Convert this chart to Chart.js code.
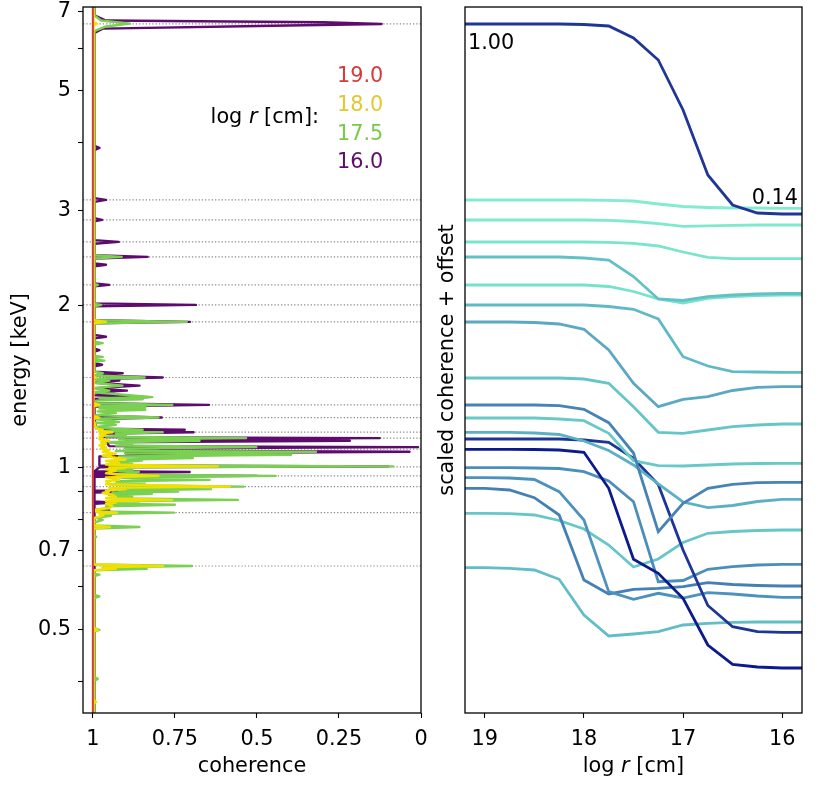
<!DOCTYPE html>
<html>
<head>
<meta charset="utf-8">
<script src="https://cdn.jsdelivr.net/npm/chart.js@4.4.1/dist/chart.umd.min.js"></script>
<style>
  html, body { margin: 0; padding: 0; background: #fff; }
  #wrap { position: relative; width: 830px; height: 785px; }
  canvas { position: absolute; top: 0; }
  #left { left: 0; }
  #right { left: 430px; }
</style>
</head>
<body>
<div id="wrap">
  <canvas id="left" width="430" height="785"></canvas>
  <canvas id="right" width="400" height="785"></canvas>
</div>
<script>
// --- Left panel data: [energy keV, coherence] ---
const radiusLabels = ['19.0', '18.0', '17.5', '16.0'];

const red19 = [[7.2, 1.0], [0.34, 1.0]];

const yellow18 = [
  [7.2, 0.998], [6.7, 0.998], [6.66, 0.988], [6.62, 0.998],
  [1.875, 0.998], [1.862, 0.96], [1.85, 0.998],
  [1.475, 0.998], [1.468, 0.99], [1.46, 0.998],
  [1.315, 0.998], [1.306, 0.98], [1.297, 0.998],
  [1.245, 0.998], [1.237, 0.98], [1.229, 0.998],
  [1.18, 0.99], [1.174, 0.97], [1.168, 0.98], [1.162, 0.94], [1.155, 0.98], [1.146, 0.96], [1.14, 0.98],
  [1.133, 0.97], [1.127, 0.98], [1.12, 0.95], [1.113, 0.975], [1.106, 0.96], [1.098, 0.98], [1.09, 0.96],
  [1.084, 0.975], [1.075, 0.95], [1.069, 0.97], [1.06, 0.93], [1.052, 0.97], [1.044, 0.94], [1.035, 0.9],
  [1.028, 0.96], [1.02, 0.92], [1.012, 0.96],
  [1.004, 0.619], [1.0, 0.95], [0.997, 0.9], [0.992, 0.96], [0.986, 0.93], [0.98, 0.95], [0.975, 0.96], [0.97, 0.92],
  [0.964, 0.8], [0.958, 0.96], [0.953, 0.94], [0.948, 0.92], [0.942, 0.96], [0.937, 0.95], [0.93, 0.96],
  [0.921, 0.583], [0.916, 0.95], [0.911, 0.9], [0.906, 0.96], [0.902, 0.95], [0.896, 0.97], [0.889, 0.94],
  [0.882, 0.93], [0.876, 0.96], [0.87, 0.758], [0.865, 0.96], [0.86, 0.93], [0.855, 0.96], [0.848, 0.94],
  [0.84, 0.95], [0.835, 0.99], [0.828, 0.99], [0.824, 0.926], [0.819, 0.98], [0.813, 0.97], [0.806, 0.995],
  [0.78, 0.998], [0.775, 0.948], [0.77, 0.998],
  [0.66, 0.998], [0.656, 0.786], [0.652, 0.97], [0.648, 0.93], [0.644, 0.998],
  [0.503, 0.998], [0.4995, 0.985], [0.496, 0.998],
  [0.37, 0.998], [0.367, 0.99], [0.364, 0.998], [0.34, 0.998]
];

const green175 = [
  [7.2, 0.995], [6.9, 0.995], [6.75, 0.975], [6.66, 0.887], [6.58, 0.96], [6.45, 0.995],
  [2.475, 0.995], [2.458, 0.912], [2.44, 0.995],
  [2.19, 0.995], [2.181, 0.985], [2.17, 0.995],
  [2.01, 0.995], [2.002, 0.975], [1.99, 0.995],
  [1.875, 0.995], [1.862, 0.714], [1.85, 0.995],
  [1.71, 0.995], [1.7, 0.97], [1.69, 0.995],
  [1.61, 0.995], [1.603, 0.97], [1.595, 0.995], [1.585, 0.995], [1.578, 0.965], [1.57, 0.995],
  [1.505, 0.995], [1.495, 0.97], [1.481, 0.995],
  [1.468, 0.842], [1.458, 0.99], [1.449, 0.95], [1.435, 0.995], [1.418, 0.91], [1.403, 0.995],
  [1.388, 0.95], [1.378, 0.995], [1.35, 0.819], [1.344, 0.98], [1.338, 0.848], [1.33, 0.99],
  [1.315, 0.99], [1.306, 0.758], [1.299, 0.98], [1.293, 0.84], [1.286, 0.98], [1.279, 0.84], [1.27, 0.985],
  [1.261, 0.93], [1.25, 0.99], [1.237, 0.8], [1.232, 0.96], [1.228, 0.985], [1.22, 0.95], [1.214, 0.92],
  [1.21, 0.99], [1.199, 0.93], [1.193, 0.96], [1.188, 0.99], [1.18, 0.94], [1.174, 0.848], [1.168, 0.98],
  [1.162, 0.787], [1.155, 0.93], [1.146, 0.9], [1.14, 0.96], [1.133, 0.533], [1.127, 0.92], [1.12, 0.675],
  [1.113, 0.95], [1.106, 0.88], [1.098, 0.93], [1.09, 0.502], [1.084, 0.9], [1.076, 0.8], [1.072, 0.93],
  [1.069, 0.32], [1.062, 0.9], [1.055, 0.396], [1.048, 0.92], [1.04, 0.695], [1.034, 0.9], [1.029, 0.85],
  [1.022, 0.93], [1.015, 0.88], [1.009, 0.95], [1.004, 0.085], [1.0, 0.93], [0.997, 0.9], [0.993, 0.95],
  [0.989, 0.88], [0.985, 0.94], [0.98, 0.86], [0.975, 0.9], [0.97, 0.93], [0.964, 0.443], [0.958, 0.92],
  [0.953, 0.88], [0.948, 0.644], [0.942, 0.93], [0.937, 0.84], [0.93, 0.95], [0.926, 0.88], [0.921, 0.54],
  [0.916, 0.93], [0.911, 0.64], [0.906, 0.92], [0.902, 0.74], [0.898, 0.94], [0.893, 0.82], [0.888, 0.95],
  [0.882, 0.88], [0.876, 0.95], [0.87, 0.558], [0.865, 0.94], [0.86, 0.86], [0.856, 0.95], [0.852, 0.75],
  [0.847, 0.96], [0.84, 0.95], [0.835, 0.99], [0.828, 0.99], [0.824, 0.753], [0.82, 0.97], [0.813, 0.945],
  [0.806, 0.99], [0.799, 0.97], [0.79, 0.995], [0.78, 0.995], [0.775, 0.858], [0.77, 0.995],
  [0.746, 0.995], [0.743, 0.99], [0.74, 0.995],
  [0.66, 0.995], [0.656, 0.698], [0.652, 0.97], [0.648, 0.836], [0.644, 0.995],
  [0.634, 0.995], [0.632, 0.98], [0.628, 0.995],
  [0.58, 0.995], [0.576, 0.98], [0.572, 0.995],
  [0.503, 0.995], [0.4995, 0.98], [0.496, 0.995],
  [0.408, 0.995], [0.405, 0.985], [0.402, 0.995], [0.34, 0.995]
];

const purple16 = [
  [7.2, 0.995], [6.9, 0.995], [6.75, 0.96], [6.7, 0.3], [6.65, 0.12], [6.6, 0.45], [6.52, 0.97], [6.4, 0.995],
  [3.95, 0.995], [3.915, 0.98], [3.88, 0.995],
  [3.16, 0.995], [3.135, 0.96], [3.11, 0.995],
  [2.9, 0.995], [2.879, 0.972], [2.86, 0.995],
  [2.64, 0.995], [2.621, 0.921], [2.6, 0.995],
  [2.475, 0.995], [2.458, 0.833], [2.44, 0.995],
  [2.39, 0.995], [2.376, 0.96], [2.36, 0.995],
  [2.195, 0.995], [2.181, 0.95], [2.167, 0.995],
  [2.015, 0.995], [2.002, 0.686], [1.99, 0.995],
  [1.875, 0.995], [1.862, 0.704], [1.85, 0.995],
  [1.76, 0.995], [1.747, 0.96], [1.735, 0.995],
  [1.66, 0.995], [1.65, 0.98], [1.64, 0.995],
  [1.56, 0.995], [1.55, 0.972], [1.54, 0.995],
  [1.505, 0.995], [1.495, 0.909], [1.481, 0.995], [1.468, 0.787], [1.458, 0.995], [1.449, 0.919],
  [1.435, 0.995], [1.418, 0.858], [1.403, 0.995], [1.388, 0.896], [1.378, 0.995], [1.369, 0.934],
  [1.36, 0.995], [1.35, 0.83], [1.34, 0.995],
  [1.315, 0.995], [1.306, 0.646], [1.297, 0.995],
  [1.245, 0.995], [1.237, 0.79], [1.229, 0.995],
  [1.18, 0.99], [1.174, 0.72], [1.168, 0.97], [1.162, 0.693], [1.155, 0.96],
  [1.138, 0.97], [1.133, 0.126], [1.127, 0.9], [1.12, 0.217], [1.113, 0.96],
  [1.095, 0.95], [1.09, 0.009], [1.084, 0.9], [1.074, 0.85], [1.069, 0.035], [1.062, 0.9],
  [1.055, 0.6], [1.048, 0.98],
  [1.008, 0.98], [1.004, 0.1], [1.0, 0.98],
  [0.984, 0.995], [0.98, 0.705], [0.976, 0.995],
  [0.968, 0.995], [0.964, 0.5], [0.96, 0.995],
  [0.906, 0.995], [0.902, 0.853], [0.898, 0.995],
  [0.864, 0.995], [0.86, 0.935], [0.856, 0.995],
  [0.835, 0.995], [0.832, 0.95], [0.829, 0.995], [0.34, 0.995]
];

// energies of the marked lines (dotted guides)
const lineEnergies = [6.65, 3.135, 2.879, 2.621, 2.458, 2.181, 2.002, 1.862, 1.468, 1.306,
                      1.237, 1.162, 1.133, 1.081, 1.002, 0.964, 0.921, 0.824, 0.656];

const coherenceTicks = [1, 0.75, 0.5, 0.25, 0];
const energyTicks = [0.4, 0.5, 0.6, 0.7, 0.8, 0.9, 1, 2, 3, 4, 5, 6, 7];
const energyTickLabels = ['', '0.5', '', '0.7', '', '', '1', '2', '3', '', '5', '', '7'];

// --- Right panel data: scaled coherence + offset (arbitrary units) vs log r ---
const logR = [19.25, 19.0, 18.75, 18.5, 18.25, 18.0, 17.75, 17.5, 17.25, 17.0, 16.75, 16.5, 16.25, 16.0, 15.75];
const logRTicks = [19, 18, 17, 16];

const e6_65 = [689, 689, 689, 689, 689, 688.5, 687, 675, 653, 603, 538, 508, 500, 499, 499];
const e3_14 = [513, 513, 513, 513, 513, 513, 512.7, 512, 509, 506.5, 505.5, 505, 505, 504.7, 504.7];
const e2_88 = [493, 493, 493, 493, 493, 493, 492.7, 491.5, 489.3, 486.7, 487.2, 487.7, 488, 488, 488];
const e2_62 = [471, 471, 471, 471, 471, 471, 470.7, 469.7, 467, 461, 455.7, 454.3, 454.3, 454.3, 454.3];
const e2_46 = [456, 456, 456, 456, 456, 455, 453, 436.5, 414, 412.5, 416.3, 418, 419, 419.5, 419.5];
const e2_18 = [428, 428, 428, 428, 428, 428, 426.5, 421.5, 414, 410, 414.7, 416.5, 417.5, 418, 418];
const e2_00 = [408, 408, 408, 408, 408, 408, 406.5, 403.7, 394, 356.3, 347, 341.3, 341, 340.7, 340.7];
const e1_86 = [391, 391, 391, 390.5, 389, 383.7, 363, 329.7, 306.3, 313.7, 316.3, 322.5, 325.7, 326.3, 326.3];
const e1_47 = [335, 335, 335, 335, 335, 334, 329.7, 306.3, 280.7, 279.7, 283, 286.3, 288, 289, 289];
const e1_31 = [308, 308, 308, 308, 307.3, 303.7, 290.3, 260, 181.3, 209.7, 224.7, 228.7, 230.3, 230.7, 230.7];
const e1_24 = [295, 295, 295, 295, 294, 292.3, 279.7, 252.3, 247.3, 247, 248, 249, 249.5, 249.7, 249.7];
const e1_16 = [280.7, 280.7, 280.7, 280, 278.5, 272, 262.5, 248, 229, 211, 205.3, 207.5, 211.5, 213.7, 213.7];
const e1_13 = [274, 274, 274, 274, 274, 273, 270.7, 254.7, 228.5, 163, 107.5, 86.3, 81.3, 80.7, 80.7];
const e1_08 = [263.7, 263.7, 263.7, 263.5, 263, 260.7, 224.7, 153.7, 139.7, 114.7, 68, 48.7, 46, 45, 45];
const e1_00 = [245.3, 245.3, 245.3, 245, 244.5, 241.3, 232, 211.3, 131.3, 132.5, 143.7, 146.3, 148, 148.7, 148.7];
const e0_96 = [235.3, 235.3, 235, 233.5, 221.3, 193, 121.3, 113.7, 119.7, 115, 120.3, 119, 117, 115.7, 115.7];
const e0_92 = [224.7, 224.7, 223, 215.3, 198, 133, 119, 123.7, 124.7, 126.3, 130.3, 128.5, 127.5, 127, 127];
const e0_82 = [199.7, 199.7, 199.3, 198, 192.5, 184, 168, 146, 154, 170.5, 179.7, 181.5, 182.5, 183, 183];
const e0_66 = [145.3, 145.3, 144.7, 143, 133.7, 98, 77, 79, 81.3, 88, 89.7, 90.7, 91, 91, 91];

const curves = [e6_65, e3_14, e2_88, e2_62, e2_46, e2_18, e2_00, e1_86, e1_47, e1_31,
                e1_24, e1_16, e1_13, e1_08, e1_00, e0_96, e0_92, e0_82, e0_66];
const curveColors = ['#1f3597', '#82ebd0', '#7fe9cd', '#7ae4cc', '#63c1c5', '#77e2cc', '#5fbac5',
                     '#5aa8c2', '#66c6c7', '#4683b7', '#68c9c8', '#5cb0c3', '#1d3596', '#0b1a8c',
                     '#4b8ebb', '#4d92bd', '#447fb5', '#67c7c8', '#61bdc6'];

// start / end value labels of the top curve
const endLabels = [
  { x: 19.17, y: 669.5, text: '1.00', align: 'left' },
  { x: 15.84, y: 514.5, text: '0.14', align: 'right' }
];

// --- Styles ---
const FONT = 'DejaVu Sans';
const FSIZE = 20.8;
Chart.defaults.font.family = FONT;
Chart.defaults.font.size = FSIZE;
Chart.defaults.color = '#000';

const seriesColors = ['#d63c2f', '#f0e000', '#7ad151', '#5e0b6e'];
const keyColors = ['#d8393a', '#e3c832', '#79c94a', '#5e0b6e'];

function fontStr(italic) {
  return (italic ? 'italic ' : '') + FSIZE + 'px "' + FONT + '"';
}

function drawParts(ctx, parts, x, y, align) {
  let total = 0;
  parts.forEach(([t, it]) => {
    ctx.font = fontStr(it);
    total += ctx.measureText(t).width;
  });
  let cx = align === 'right' ? x - total : align === 'center' ? x - total / 2 : x;
  ctx.textAlign = 'left';
  parts.forEach(([t, it]) => {
    ctx.font = fontStr(it);
    ctx.fillText(t, cx, y);
    cx += ctx.measureText(t).width;
  });
}

const frame = {
  id: 'frame',
  afterDraw(chart) {
    const { ctx, chartArea: a } = chart;
    ctx.save();
    ctx.strokeStyle = '#000';
    ctx.lineWidth = 1.3;
    ctx.strokeRect(a.left, a.top, a.right - a.left, a.bottom - a.top);
    ctx.restore();
  }
};

function noPad(s) {
  s.paddingTop = 0; s.paddingBottom = 0; s.paddingLeft = 0; s.paddingRight = 0;
}

const tickGrid = { drawOnChartArea: false, drawTicks: true, tickLength: 5, tickColor: '#000', tickWidth: 1.1 };

// --- Left chart ---
const radiusKey = {
  id: 'radiusKey',
  afterDatasetsDraw(chart) {
    const { ctx, chartArea: a } = chart;
    ctx.save();
    ctx.textBaseline = 'middle';
    ctx.textAlign = 'left';
    ctx.font = fontStr(false);
    radiusLabels.forEach((lab, i) => {
      ctx.fillStyle = keyColors[i];
      ctx.fillText(lab, a.left + 254, a.top + 70 + i * 28.7);
    });
    ctx.fillStyle = '#000';
    drawParts(ctx, [['log ', false], ['r', true], [' [cm]:', false]], a.left + 236, a.top + 111, 'right');
    ctx.restore();
  }
};

const toXY = arr => arr.map(([e, c]) => ({ x: c, y: e }));
const seriesData = [red19, yellow18, green175, purple16];

const leftSets = seriesData.map((d, i) => ({
  label: radiusLabels[i],
  data: toXY(d),
  showLine: true,
  borderColor: seriesColors[i],
  borderWidth: i === 0 ? 2 : 2.4,
  borderJoinStyle: 'round',
  pointRadius: 0,
  tension: 0
}));
lineEnergies.forEach(e => leftSets.push({
  data: [{ x: 1.03, y: e }, { x: 0, y: e }],
  showLine: true,
  borderColor: '#8a8a8a',
  borderWidth: 1.2,
  borderDash: [1.3, 2],
  pointRadius: 0
}));

new Chart(document.getElementById('left'), {
  type: 'scatter',
  data: { datasets: leftSets },
  options: {
    responsive: false,
    animation: false,
    layout: { padding: { left: 0, right: 9, top: 7, bottom: 0 } },
    plugins: { legend: { display: false }, tooltip: { enabled: false } },
    scales: {
      x: {
        type: 'linear', reverse: true, min: 0, max: 1.03,
        afterBuildTicks: s => { s.ticks = coherenceTicks.map(v => ({ value: v })); },
        afterFit: s => { s.height = 72; noPad(s); },
        ticks: { autoSkip: false, maxRotation: 0, padding: 9, callback: v => String(v) },
        grid: tickGrid,
        border: { display: false },
        title: { display: true, text: 'coherence', padding: { top: 0, bottom: 6 } }
      },
      y: {
        type: 'logarithmic', min: 0.35, max: 7.15,
        afterBuildTicks: s => { s.ticks = energyTicks.map(v => ({ value: v })); },
        afterFit: s => { s.width = 83; noPad(s); },
        ticks: { autoSkip: false, padding: 7,
                 callback: v => energyTickLabels[energyTicks.indexOf(v)] ?? '' },
        grid: tickGrid,
        border: { display: false },
        title: { display: true, text: 'energy [keV]', padding: { top: 8, bottom: 0 } }
      }
    }
  },
  plugins: [frame, radiusKey]
});

// --- Right chart ---
const rightText = {
  id: 'rightText',
  afterDraw(chart) {
    const { ctx, chartArea: a, scales } = chart;
    ctx.save();
    ctx.fillStyle = '#000';
    ctx.textBaseline = 'middle';
    ctx.font = fontStr(false);
    endLabels.forEach(l => {
      ctx.textAlign = l.align;
      ctx.fillText(l.text, scales.x.getPixelForValue(l.x), scales.y.getPixelForValue(l.y));
    });
    drawParts(ctx, [['log ', false], ['r', true], [' [cm]', false]], (a.left + a.right) / 2, 767, 'center');
    ctx.restore();
  }
};

const rightSets = curves.map((vals, i) => ({
  data: vals.map((v, j) => ({ x: logR[j], y: v })),
  showLine: true,
  borderColor: curveColors[i],
  borderWidth: 2.8,
  pointRadius: 0,
  tension: 0
}));

new Chart(document.getElementById('right'), {
  type: 'scatter',
  data: { datasets: rightSets },
  options: {
    responsive: false,
    animation: false,
    layout: { padding: { left: 0, right: 28, top: 7, bottom: 0 } },
    plugins: { legend: { display: false }, tooltip: { enabled: false } },
    scales: {
      x: {
        type: 'linear', reverse: true, min: 15.8, max: 19.2,
        afterBuildTicks: s => { s.ticks = logRTicks.map(v => ({ value: v })); },
        afterFit: s => { s.height = 72; noPad(s); },
        ticks: { autoSkip: false, maxRotation: 0, padding: 9, callback: v => String(v) },
        grid: tickGrid,
        border: { display: false },
        title: { display: false }
      },
      y: {
        type: 'linear', min: 0, max: 706,
        afterFit: s => { s.width = 35; noPad(s); },
        ticks: { display: false },
        grid: { display: false },
        border: { display: false },
        title: { display: true, text: 'scaled coherence + offset', padding: { top: 5, bottom: 0 } }
      }
    }
  },
  plugins: [frame, rightText]
});
</script>
</body>
</html>
